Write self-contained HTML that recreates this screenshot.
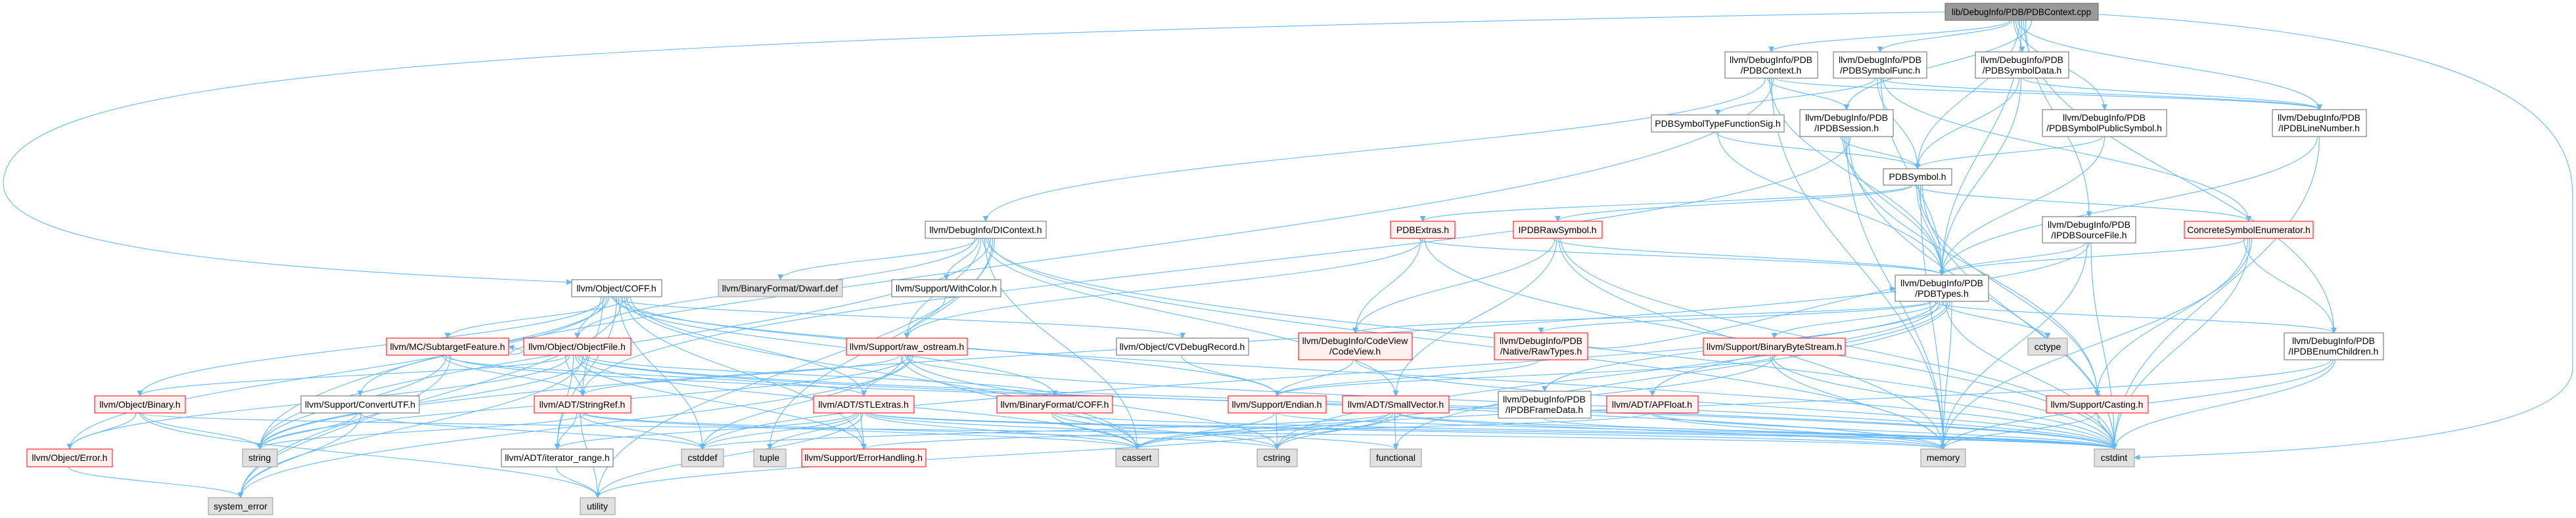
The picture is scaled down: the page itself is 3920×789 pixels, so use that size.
<!DOCTYPE html>
<html><head><meta charset="utf-8"><style>
html,body{margin:0;padding:0;background:#fff;width:3920px;height:789px;overflow:hidden}
svg{display:block}
text{font-family:"Liberation Sans",Arial,sans-serif;font-size:14px;fill:#000}
</style></head><body>
<svg id="g" width="3920" height="789" viewBox="0 0 3920 789" xmlns="http://www.w3.org/2000/svg">
<defs><marker id="a" viewBox="0 0 10 10" refX="9" refY="5" markerWidth="9" markerHeight="9" markerUnits="userSpaceOnUse" orient="auto"><path d="M0,0 L10,5 L0,10 z" fill="#63b8ff"/></marker></defs>
<g id="edges" fill="none" stroke="#63b8ff" stroke-width="1.1"></g>
<g id="nodes">
<rect x="2960" y="5" width="233" height="26" fill="#999" stroke="#666"/><text x="3076" y="23" text-anchor="middle" textLength="212" lengthAdjust="spacingAndGlyphs">lib/DebugInfo/PDB/PDBContext.cpp</text>
<rect x="2625" y="79" width="141" height="40" fill="#fff" stroke="#666"/><text x="2695" y="96" text-anchor="middle">llvm/DebugInfo/PDB</text><text x="2695" y="112" text-anchor="middle">/PDBContext.h</text>
<rect x="2790" y="79" width="142" height="40" fill="#fff" stroke="#666"/><text x="2861" y="96" text-anchor="middle">llvm/DebugInfo/PDB</text><text x="2861" y="112" text-anchor="middle">/PDBSymbolFunc.h</text>
<rect x="3006" y="79" width="142" height="40" fill="#fff" stroke="#666"/><text x="3077" y="96" text-anchor="middle">llvm/DebugInfo/PDB</text><text x="3077" y="112" text-anchor="middle">/PDBSymbolData.h</text>
<rect x="2513" y="175" width="202" height="26" fill="#fff" stroke="#666"/><text x="2614" y="193" text-anchor="middle">PDBSymbolTypeFunctionSig.h</text>
<rect x="2739" y="167" width="142" height="41" fill="#fff" stroke="#666"/><text x="2810" y="184" text-anchor="middle">llvm/DebugInfo/PDB</text><text x="2810" y="200" text-anchor="middle">/IPDBSession.h</text>
<rect x="3108" y="167" width="189" height="41" fill="#fff" stroke="#666"/><text x="3202" y="184" text-anchor="middle">llvm/DebugInfo/PDB</text><text x="3202" y="200" text-anchor="middle">/PDBSymbolPublicSymbol.h</text>
<rect x="3458" y="167" width="143" height="41" fill="#fff" stroke="#666"/><text x="3529" y="184" text-anchor="middle">llvm/DebugInfo/PDB</text><text x="3529" y="200" text-anchor="middle">/IPDBLineNumber.h</text>
<rect x="2866" y="257" width="104" height="25" fill="#fff" stroke="#666"/><text x="2918" y="274" text-anchor="middle">PDBSymbol.h</text>
<rect x="1408" y="337" width="184" height="26" fill="#fff" stroke="#666"/><text x="1500" y="355" text-anchor="middle">llvm/DebugInfo/DIContext.h</text>
<rect x="2116" y="337" width="98" height="26" fill="#fff0f0" stroke="#f00"/><text x="2165" y="355" text-anchor="middle">PDBExtras.h</text>
<rect x="2303" y="337" width="135" height="26" fill="#fff0f0" stroke="#f00"/><text x="2370" y="355" text-anchor="middle">IPDBRawSymbol.h</text>
<rect x="3108" y="330" width="142" height="40" fill="#fff" stroke="#666"/><text x="3179" y="347" text-anchor="middle">llvm/DebugInfo/PDB</text><text x="3179" y="363" text-anchor="middle">/IPDBSourceFile.h</text>
<rect x="3324" y="337" width="196" height="26" fill="#fff0f0" stroke="#f00"/><text x="3422" y="355" text-anchor="middle">ConcreteSymbolEnumerator.h</text>
<rect x="870" y="426" width="137" height="26" fill="#fff" stroke="#666"/><text x="938" y="444" text-anchor="middle">llvm/Object/COFF.h</text>
<rect x="1093" y="426" width="189" height="26" fill="#e0e0e0" stroke="#999"/><text x="1187" y="444" text-anchor="middle">llvm/BinaryFormat/Dwarf.def</text>
<rect x="1357" y="426" width="166" height="26" fill="#fff" stroke="#666"/><text x="1440" y="444" text-anchor="middle">llvm/Support/WithColor.h</text>
<rect x="2884" y="419" width="142" height="40" fill="#fff" stroke="#666"/><text x="2955" y="436" text-anchor="middle">llvm/DebugInfo/PDB</text><text x="2955" y="452" text-anchor="middle">/PDBTypes.h</text>
<rect x="588" y="515" width="186" height="26" fill="#fff0f0" stroke="#f00"/><text x="681" y="533" text-anchor="middle">llvm/MC/SubtargetFeature.h</text>
<rect x="797" y="515" width="163" height="26" fill="#fff0f0" stroke="#f00"/><text x="878" y="533" text-anchor="middle">llvm/Object/ObjectFile.h</text>
<rect x="1288" y="515" width="184" height="26" fill="#fff0f0" stroke="#f00"/><text x="1380" y="533" text-anchor="middle">llvm/Support/raw_ostream.h</text>
<rect x="1699" y="515" width="201" height="26" fill="#fff" stroke="#666"/><text x="1799" y="533" text-anchor="middle">llvm/Object/CVDebugRecord.h</text>
<rect x="1976" y="507" width="173" height="41" fill="#fff0f0" stroke="#f00"/><text x="2062" y="524" text-anchor="middle">llvm/DebugInfo/CodeView</text><text x="2062" y="540" text-anchor="middle">/CodeView.h</text>
<rect x="2274" y="507" width="142" height="41" fill="#fff0f0" stroke="#f00"/><text x="2345" y="524" text-anchor="middle">llvm/DebugInfo/PDB</text><text x="2345" y="540" text-anchor="middle">/Native/RawTypes.h</text>
<rect x="2592" y="515" width="216" height="26" fill="#fff0f0" stroke="#f00"/><text x="2700" y="533" text-anchor="middle">llvm/Support/BinaryByteStream.h</text>
<rect x="3086" y="515" width="60" height="26" fill="#e0e0e0" stroke="#999"/><text x="3116" y="533" text-anchor="middle">cctype</text>
<rect x="3476" y="507" width="151" height="41" fill="#fff" stroke="#666"/><text x="3551" y="524" text-anchor="middle">llvm/DebugInfo/PDB</text><text x="3551" y="540" text-anchor="middle">/IPDBEnumChildren.h</text>
<rect x="144" y="603" width="138" height="26" fill="#fff0f0" stroke="#f00"/><text x="213" y="621" text-anchor="middle">llvm/Object/Binary.h</text>
<rect x="458" y="603" width="180" height="26" fill="#fff" stroke="#666"/><text x="548" y="621" text-anchor="middle">llvm/Support/ConvertUTF.h</text>
<rect x="813" y="603" width="147" height="26" fill="#fff0f0" stroke="#f00"/><text x="886" y="621" text-anchor="middle">llvm/ADT/StringRef.h</text>
<rect x="1238" y="603" width="153" height="26" fill="#fff0f0" stroke="#f00"/><text x="1314" y="621" text-anchor="middle">llvm/ADT/STLExtras.h</text>
<rect x="1517" y="603" width="176" height="26" fill="#fff0f0" stroke="#f00"/><text x="1605" y="621" text-anchor="middle">llvm/BinaryFormat/COFF.h</text>
<rect x="1869" y="603" width="149" height="26" fill="#fff0f0" stroke="#f00"/><text x="1943" y="621" text-anchor="middle">llvm/Support/Endian.h</text>
<rect x="2043" y="603" width="162" height="26" fill="#fff0f0" stroke="#f00"/><text x="2124" y="621" text-anchor="middle">llvm/ADT/SmallVector.h</text>
<rect x="2280" y="596" width="141" height="41" fill="#fff" stroke="#666"/><text x="2350" y="613" text-anchor="middle">llvm/DebugInfo/PDB</text><text x="2350" y="629" text-anchor="middle">/IPDBFrameData.h</text>
<rect x="2445" y="603" width="139" height="26" fill="#fff0f0" stroke="#f00"/><text x="2514" y="621" text-anchor="middle">llvm/ADT/APFloat.h</text>
<rect x="3114" y="603" width="155" height="26" fill="#fff0f0" stroke="#f00"/><text x="3191" y="621" text-anchor="middle">llvm/Support/Casting.h</text>
<rect x="41" y="684" width="130" height="27" fill="#fff0f0" stroke="#f00"/><text x="106" y="702" text-anchor="middle">llvm/Object/Error.h</text>
<rect x="369" y="684" width="53" height="27" fill="#e0e0e0" stroke="#999"/><text x="395" y="702" text-anchor="middle">string</text>
<rect x="763" y="684" width="170" height="27" fill="#fff" stroke="#666"/><text x="848" y="702" text-anchor="middle">llvm/ADT/iterator_range.h</text>
<rect x="1037" y="684" width="64" height="27" fill="#e0e0e0" stroke="#999"/><text x="1069" y="702" text-anchor="middle">cstddef</text>
<rect x="1147" y="684" width="49" height="27" fill="#e0e0e0" stroke="#999"/><text x="1171" y="702" text-anchor="middle">tuple</text>
<rect x="1220" y="684" width="189" height="27" fill="#fff0f0" stroke="#f00"/><text x="1314" y="702" text-anchor="middle">llvm/Support/ErrorHandling.h</text>
<rect x="1698" y="684" width="65" height="27" fill="#e0e0e0" stroke="#999"/><text x="1730" y="702" text-anchor="middle">cassert</text>
<rect x="1913" y="684" width="61" height="27" fill="#e0e0e0" stroke="#999"/><text x="1943" y="702" text-anchor="middle">cstring</text>
<rect x="2085" y="684" width="78" height="27" fill="#e0e0e0" stroke="#999"/><text x="2124" y="702" text-anchor="middle">functional</text>
<rect x="2923" y="684" width="68" height="27" fill="#e0e0e0" stroke="#999"/><text x="2957" y="702" text-anchor="middle">memory</text>
<rect x="3187" y="684" width="61" height="27" fill="#e0e0e0" stroke="#999"/><text x="3217" y="702" text-anchor="middle">cstdint</text>
<rect x="317" y="758" width="98" height="26" fill="#e0e0e0" stroke="#999"/><text x="366" y="776" text-anchor="middle">system_error</text>
<rect x="883" y="758" width="53" height="26" fill="#e0e0e0" stroke="#999"/><text x="909" y="776" text-anchor="middle">utility</text>
</g>
</svg>
<script>
var N={root:[2960,5,3193,31],ctx:[2625,79,2766,119],func:[2790,79,2932,119],data:[3006,79,3148,119],sig:[2513,175,2715,201],sess:[2739,167,2881,208],pub:[3108,167,3297,208],line:[3458,167,3601,208],sym:[2866,257,2970,282],dic:[1408,337,1592,363],ext:[2116,337,2214,363],raw:[2303,337,2438,363],src:[3108,330,3250,370],cse:[3324,337,3520,363],coff:[870,426,1007,452],dwarf:[1093,426,1282,452],wc:[1357,426,1523,452],types:[2884,419,3026,459],sub:[588,515,774,541],obj:[797,515,960,541],ros:[1288,515,1472,541],cvd:[1699,515,1900,541],cv:[1976,507,2149,548],rt:[2274,507,2416,548],bbs:[2592,515,2808,541],cctype:[3086,515,3146,541],enm:[3476,507,3627,548],bin:[144,603,282,629],utf:[458,603,638,629],sref:[813,603,960,629],stl:[1238,603,1391,629],bcoff:[1517,603,1693,629],end:[1869,603,2018,629],sv:[2043,603,2205,629],fd:[2280,596,2421,637],apf:[2445,603,2584,629],cast:[3114,603,3269,629],err:[41,684,171,711],str:[369,684,422,711],ir:[763,684,933,711],cstddef:[1037,684,1101,711],tuple:[1147,684,1196,711],eh:[1220,684,1409,711],cassert:[1698,684,1763,711],cstring:[1913,684,1974,711],func2:[2085,684,2163,711],mem:[2923,684,2991,711],cstdint:[3187,684,3248,711],se:[317,758,415,784],util:[883,758,936,784]};
var E={root:['ctx','func','data','pub','line','sym','types','enm','src','coff','cstdint','sess'],
ctx:['dic','sess','types','mem','str','line'],func:['sig','sym','line','types','cse'],data:['sym','types','line'],sig:['sym','types'],sess:['sym','types','cast','mem','cstdint','sref'],pub:['sym','types'],sym:['ext','raw','cse','types','cast','mem','cstdint'],src:['types','mem','str','cstdint'],line:['types','cstdint'],cse:['enm','types','cast','cstdint','mem'],ext:['types','cv','ros','cstdint'],raw:['types','cv','sv','mem','cstdint'],
dic:['obj','dwarf','wc','ros','sv','cassert','cstdint','mem','str','tuple','util'],coff:['obj','sref','bin','err','utf','cvd','end','bcoff','ir','cstddef','cstdint','se','eh','cassert','sub','stl'],wc:['ros'],obj:['sref','bin','err','sub','ir','eh','cassert','cstdint','mem','se','bcoff','str'],sub:['sref','stl','str','cstdint','se'],ros:['sref','cassert','cstddef','cstdint','cstring','str','se','stl'],cvd:['end'],cv:['end','cstdint'],rt:['end','types'],bbs:['mem','cstdint','cstring','end'],types:['cv','rt','enm','fd','bbs','apf','cctype','cstddef','cstdint','cstring','func2','mem'],bin:['err','mem','util','str'],utf:['str','cstddef','se'],err:['se'],sref:['ir','cstddef','util','cassert','cstring','str'],stl:['ir','cstddef','tuple','eh','util','cassert','func2','mem','cstdint'],bcoff:['cassert','cstring','cstdint'],end:['cassert','cstring','cstdint'],sv:['cassert','cstddef','cstring','func2','mem','cstdint','util'],fd:['cstdint'],apf:['eh','mem','cstdint'],cast:['mem','cstdint'],enm:['cassert','mem','cstdint'],ir:['util']};
var s='';
for(var k in E){var a=N[k];E[k].forEach(function(t,i){var b=N[t];if(!b)return;
var sx=(a[0]+a[2])/2+(i-E[k].length/2)*3,sy=a[3],tx=(b[0]+b[2])/2,ty=b[1];
if(k=='root'&&t=='coff'){s+='<path d="M2960,18 C600,60 5,120 5,280 C5,380 400,410 870,430" marker-end="url(#a)"/>';return;}
if(k=='root'&&t=='cstdint'){s+='<path d="M3193,22 C3850,60 3915,200 3915,300 L3915,560 C3915,680 3400,690 3248,697" marker-end="url(#a)"/>';return;}
if(ty<=sy+5){
 var dir=tx>sx?1:-1;sx=dir>0?a[2]:a[0];sy=(a[1]+a[3])/2;tx=dir>0?b[0]:b[2];ty=(b[1]+b[3])/2;
 s+='<path d="M'+sx+','+sy+' C'+(sx+dir*60)+','+(sy+20)+' '+(tx-dir*60)+','+(ty+10)+' '+tx+','+ty+'" marker-end="url(#a)"/>';return;}
var dy=ty-sy;
s+='<path d="M'+sx.toFixed(1)+','+sy+' C'+sx.toFixed(1)+','+(sy+dy*0.45)+' '+tx+','+(ty-dy*0.45)+' '+tx+','+ty+'" marker-end="url(#a)"/>';});}
document.getElementById('edges').innerHTML=s;
</script>
</body></html>
